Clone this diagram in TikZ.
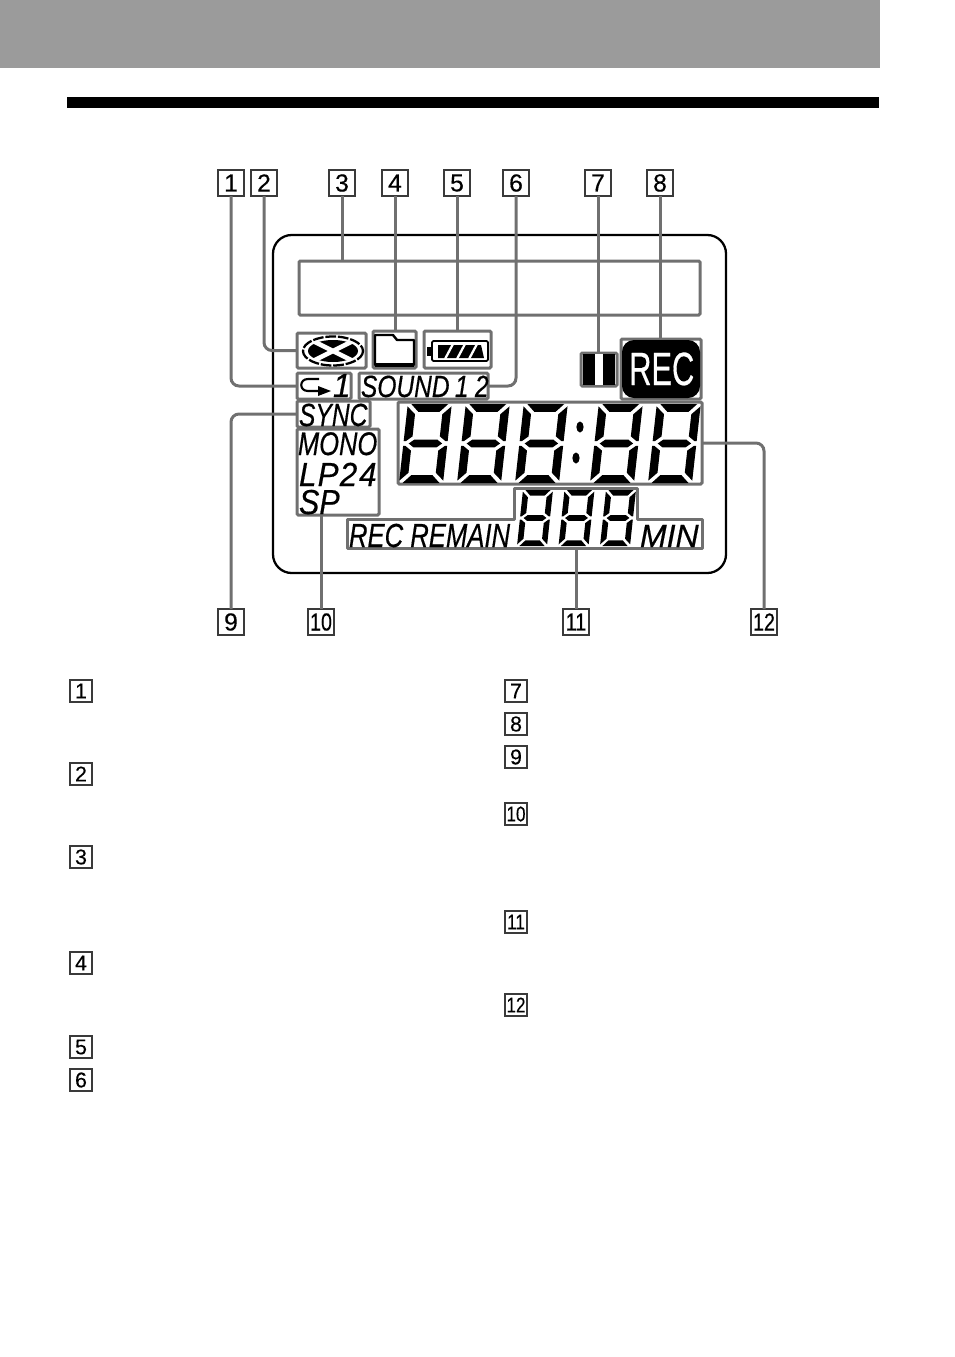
\documentclass[tikz,border=0pt]{standalone}
\usepackage{graphicx}
\usepackage{fontspec}
\setmainfont{Liberation Sans}
\definecolor{lcdgray}{HTML}{707070}
\definecolor{bandgray}{HTML}{9B9B9B}
\definecolor{keyline}{HTML}{3A3A3A}
\tikzset{
  lcdbox/.style={draw=lcdgray,line width=2.25pt,inner sep=0pt,outer sep=0pt,rounded corners=1pt},
  lead/.style={draw=lcdgray,line width=2.25pt,rounded corners=6pt},
  numkey/.style={draw=keyline,line width=1.1pt,fill=white,minimum width=19.5pt,minimum height=19.5pt,inner sep=0pt,outer sep=0pt,font=\fontsize{18.5}{18.5}\selectfont\addfontfeature{FakeBold=0.3}},
  listkey/.style={draw=keyline,line width=1.1pt,fill=white,minimum width=16.5pt,minimum height=16.5pt,inner sep=0pt,outer sep=0pt,font=\fontsize{16}{16}\selectfont\addfontfeature{FakeBold=0.3}},
}
% box by pixel corners
\newcommand\lbox[5]{%
  \pgfmathsetmacro\bxc{(#2+#4)/2}\pgfmathsetmacro\byc{(#3+#5)/2}%
  \pgfmathsetmacro\bw{(#4-#2)*0.75}\pgfmathsetmacro\bh{(#5-#3)*0.75}%
  \node[lcdbox,minimum width=\bw pt,minimum height=\bh pt] (#1) at (\bxc,\byc) {};}
% italic display text: name, x, baseline y, font pt, x-scale, text
\newcommand\lcdtxt[6]{%
  \node[anchor=base west,inner sep=0pt,outer sep=0pt] (#1) at (#2,#3)
    {\fontsize{#4}{#4}\selectfont\itshape\addfontfeature{FakeBold=0.5}\scalebox{#5}[1]{#6}};}
% seven segment digit: x of lower-left, y top, width, height
\newcommand\segdigit[4]{%
  \begin{scope}[shift={({#1+0.2*#3},#2)},xscale=#3,yscale=#4,xslant=0.2]
    \fill[black] (0.08,0)--(0.92,0)--(0.74,0.10)--(0.26,0.10)--cycle;
    \fill[black] (0.26,0.90)--(0.74,0.90)--(0.92,1)--(0.08,1)--cycle;
    \fill[black] (0.24,0.45)--(0.76,0.45)--(0.88,0.50)--(0.76,0.55)--(0.24,0.55)--(0.12,0.50)--cycle;
    \fill[black] (0,0.03)--(0.19,0.13)--(0.19,0.41)--(0.05,0.47)--(0,0.47)--cycle;
    \fill[black] (1,0.03)--(0.81,0.13)--(0.81,0.41)--(0.95,0.47)--(1,0.47)--cycle;
    \fill[black] (0,0.53)--(0.05,0.53)--(0.19,0.59)--(0.19,0.87)--(0,0.97)--cycle;
    \fill[black] (1,0.53)--(0.95,0.53)--(0.81,0.59)--(0.81,0.87)--(1,0.97)--cycle;
  \end{scope}}
\begin{document}
\begin{tikzpicture}[x=0.75pt,y=-0.75pt]
\useasboundingbox (0,0) rectangle (954,1357);
% page furniture
\fill[bandgray] (0,0) rectangle (880,68);
\fill[black] (67,97) rectangle (879,108);
% LCD outline
\node[draw=black,line width=1.7pt,rounded corners=14pt,minimum width=339.75pt,minimum height=253.5pt,inner sep=0pt] (lcd) at (499.5,404) {};
% indicator frames
\lbox{msg}{299}{261}{700}{315}
\lbox{disc}{297}{333}{366}{368}
\lbox{folder}{373}{331}{416}{368}
\lbox{batt}{424}{331}{491}{368}
\lbox{rep}{297}{373}{351}{399}
\lbox{sound}{359}{373}{488}{399}
\lbox{sync}{297}{401}{370}{427}
\lbox{mode}{297}{429}{379}{515}
\lbox{time}{398}{402}{702}{484}
\lbox{pause}{581}{353}{617}{386}
\lbox{rec}{621}{339}{701}{399}
% remaining-time frame (notched)
\draw[draw=lcdgray,line width=2.25pt,line join=round] (347,519)--(514,519)--(514,488)--(637,488)--(637,519)--(702,519)--(702,548)--(347,548)--cycle;
\coordinate (remain) at (576,548);
% disc icon
\fill[black] (333,351) ellipse [x radius=25,y radius=11];
\draw[white,line width=3.4pt] (309,339)--(357,363) (309,363)--(357,339);
\draw[black,line width=1.7pt,dash pattern=on 8pt off 1.4pt] (333,351) ellipse [x radius=30,y radius=14.5];
% folder icon
\draw[black,line width=1.8pt,line join=round] (375,365)--(375,335)--(393,335)--(397,340)--(414,340)--(414,365)--cycle;
\draw[black,line width=2.6pt] (375,365)--(414,365);
% battery icon
\draw[black,line width=1.4pt,rounded corners=1pt] (432,341) rectangle (488,361);
\fill[black] (427,347) rectangle (431,356);
\fill[black] (438,345)--(481,345)--(484,358)--(438,358)--cycle;
\draw[white,line width=1.7pt] (445,359)--(453,344) (457,359)--(465,344) (469,359)--(477,344);
% repeat icon
\draw[black,line width=1.6pt] (319,379)--(308,379) .. controls (299,379) and (299,391) .. (308,391)--(320,391);
\fill[black] (318,386)--(331,391)--(318,396)--cycle;
\lcdtxt{repone}{333}{397}{25}{0.95}{1}
% pause
\fill[black] (583,354) rectangle (615,385);
\fill[white] (595,354) rectangle (603,385);
% REC badge
\fill[black,rounded corners=9pt] (622,340) rectangle (700,398);
\node[anchor=base west,inner sep=0pt,text=white] (rectxt) at (629,385) {\fontsize{35}{35}\selectfont\addfontfeature{FakeBold=0.5}\scalebox{0.66}[1]{REC}};
% texts
\lcdtxt{soundt}{361}{397}{23}{0.80}{SOUND\kern5pt 1\kern6pt 2}
\lcdtxt{synct}{299}{426}{24}{0.77}{SYNC}
\lcdtxt{monot}{298}{455}{24.5}{0.78}{MONO}
\lcdtxt{lpt}{299}{486}{25}{0.94}{L\kern1pt P\kern1pt 2\kern1.5pt 4}
\lcdtxt{spt}{299}{514}{26}{0.88}{SP}
\lcdtxt{remt}{349}{547}{25}{0.77}{REC REMAIN}
\lcdtxt{mint}{640}{547}{24}{1.0}{MIN}
% big digits
\segdigit{399}{404}{44}{79}
\segdigit{457}{404}{44}{79}
\segdigit{515}{404}{44}{79}
\segdigit{590}{404}{44}{79}
\segdigit{648}{404}{44}{79}
\fill[black] (580,427) ellipse [x radius=3.6,y radius=5.5];
\fill[black] (576,458) ellipse [x radius=3.6,y radius=5.5];
% small digits
\segdigit{517}{490}{30}{56}
\segdigit{558.5}{490}{30}{56}
\segdigit{600}{490}{30}{56}
% call-out keys
\node[numkey] (k1) at (231,183) {1};
\node[numkey] (k2) at (264,183) {2};
\node[numkey] (k3) at (342,183) {3};
\node[numkey] (k4) at (395,183) {4};
\node[numkey] (k5) at (457,183) {5};
\node[numkey] (k6) at (516,183) {6};
\node[numkey] (k7) at (598,183) {7};
\node[numkey] (k8) at (660,183) {8};
\node[numkey] (k9) at (231,622) {9};
\node[numkey] (k10) at (321,622) {\scalebox{0.8}[1]{10}};
\node[numkey] (k11) at (576,622) {\scalebox{0.8}[1]{11}};
\node[numkey] (k12) at (764,622) {\scalebox{0.8}[1]{12}};
% leaders
\draw[lead] (k1.south)|-(rep.west);
\draw[lead] (k2.south)|-(disc.west);
\draw[lead] (k3.south)--(k3.south|-msg.north);
\draw[lead] (k4.south)--(k4.south|-folder.north);
\draw[lead] (k5.south)--(k5.south|-batt.north);
\draw[lead] (k6.south)|-(sound.east);
\draw[lead] (k7.south)--(k7.south|-pause.north);
\draw[lead] (k8.south)--(k8.south|-rec.north);
\draw[lead] (k9.north)|-(sync.west);
\draw[lead] (k10.north)--(k10.north|-mode.south);
\draw[lead] (k11.north)--(remain);
\draw[lead] (k12.north)|-(time.east);
% list keys
\node[listkey] (l1) at (81,691) {1};
\node[listkey] (l2) at (81,774) {2};
\node[listkey] (l3) at (81,857) {3};
\node[listkey] (l4) at (81,963) {4};
\node[listkey] (l5) at (81,1047) {5};
\node[listkey] (l6) at (81,1080) {6};
\node[listkey] (l7) at (516,691) {7};
\node[listkey] (l8) at (516,724) {8};
\node[listkey] (l9) at (516,757) {9};
\node[listkey] (l10) at (516,814) {\scalebox{0.8}[1]{10}};
\node[listkey] (l11) at (516,922) {\scalebox{0.8}[1]{11}};
\node[listkey] (l12) at (516,1005) {\scalebox{0.8}[1]{12}};
\end{tikzpicture}
\end{document}
